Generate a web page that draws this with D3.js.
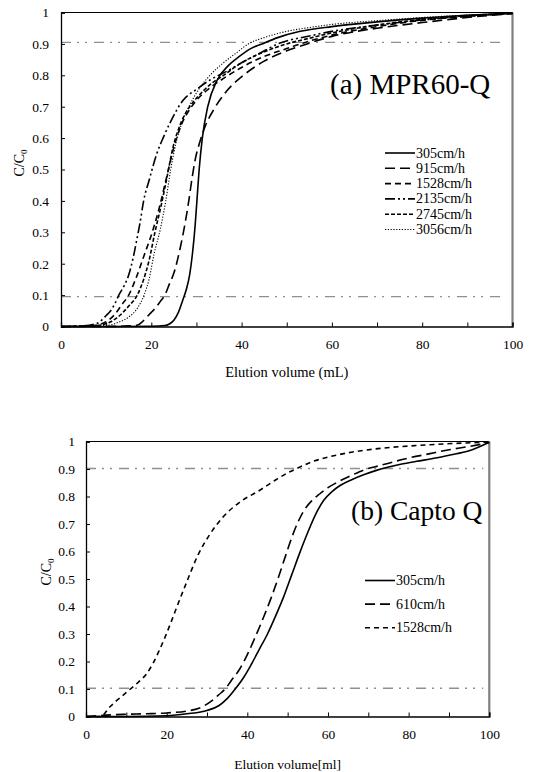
<!DOCTYPE html>
<html><head><meta charset="utf-8">
<script src="https://cdn.jsdelivr.net/npm/d3@7"></script>
<style>
html,body{margin:0;padding:0;background:#fff;}
svg{display:block;}
</style></head>
<body>
<svg id="chart" width="533" height="772"></svg>
<script>
// ---------- DATA ----------
const xTicks = [0, 20, 40, 60, 80, 100];
const xMinorTicks = [0, 10, 20, 30, 40, 50, 60, 70, 80, 90, 100];
const yTicks = [0, 0.1, 0.2, 0.3, 0.4, 0.5, 0.6, 0.7, 0.8, 0.9, 1];
const yTickLabels = ["0", "0.1", "0.2", "0.3", "0.4", "0.5", "0.6", "0.7", "0.8", "0.9", "1"];

// Panel (a) MPR60-Q : [elution volume mL, C/C0]
const seriesNamesA = ["305cm/h", "915cm/h", "1528cm/h", "2135cm/h", "2745cm/h", "3056cm/h"];
const a305 = [[0,0],[10,0],[20,0.001],[23,0.003],[24,0.008],[25,0.02],[26,0.045],[27,0.085],[27.8,0.12],[28.5,0.165],[29.1,0.23],[29.7,0.32],[30.2,0.42],[30.6,0.5],[31.3,0.6],[32.5,0.7],[34.6,0.785],[37,0.83],[39.5,0.86],[42,0.885],[44.5,0.9],[48,0.92],[53,0.94],[60,0.955],[70,0.97],[80,0.982],[90,0.991],[100,0.998]];
const a915 = [[0,0],[10,0],[15,0.002],[17,0.005],[18,0.015],[19,0.03],[20,0.045],[21,0.06],[22,0.08],[23,0.1],[24,0.135],[25,0.17],[26.4,0.25],[27.5,0.33],[28.3,0.4],[29,0.47],[29.7,0.53],[30.8,0.59],[32,0.64],[33.8,0.69],[36.7,0.75],[40.4,0.8],[45,0.845],[50,0.878],[54.5,0.9],[60,0.924],[70,0.95],[80,0.968],[90,0.984],[100,0.997]];
const a1528 = [[0,0],[6,0.002],[8,0.005],[10,0.015],[12,0.04],[13.5,0.07],[15,0.1],[16.5,0.15],[18.5,0.23],[20.2,0.3],[21.8,0.38],[23.3,0.47],[24.8,0.56],[26.3,0.63],[28,0.68],[30,0.72],[33,0.76],[36,0.79],[40,0.825],[45,0.86],[50,0.885],[53,0.9],[60,0.928],[70,0.955],[80,0.975],[90,0.988],[100,0.997]];
const a2135 = [[0,0],[5,0.002],[8,0.01],[9,0.02],[10,0.035],[11,0.05],[12,0.075],[12.8,0.1],[14,0.13],[14.9,0.16],[16,0.22],[16.7,0.27],[17.5,0.33],[18.3,0.4],[19.6,0.47],[21.2,0.55],[22.6,0.6],[24.2,0.65],[27,0.72],[30,0.755],[33,0.785],[37,0.815],[40,0.84],[44,0.87],[48,0.9],[55,0.925],[60,0.94],[70,0.96],[80,0.976],[90,0.988],[100,0.997]];
const a2745 = [[0,0],[7,0.002],[9,0.005],[11,0.015],[13,0.035],[15,0.065],[16.9,0.1],[18.3,0.15],[19.5,0.21],[20.8,0.3],[22.1,0.38],[23.4,0.47],[24.8,0.57],[26.6,0.65],[28.5,0.7],[30.5,0.735],[33,0.77],[36,0.8],[40,0.84],[45,0.875],[50,0.9],[55,0.918],[60,0.935],[70,0.96],[80,0.978],[90,0.99],[100,0.997]];
const a3056 = [[0,0],[10,0.003],[13,0.015],[15,0.03],[17,0.06],[18.4,0.1],[19.5,0.15],[20.6,0.23],[22,0.31],[23.2,0.4],[24.3,0.5],[25.4,0.58],[26.8,0.65],[28.5,0.705],[30.5,0.755],[33,0.8],[36,0.84],[39,0.873],[41.5,0.9],[45,0.92],[50,0.94],[55,0.952],[60,0.962],[70,0.974],[80,0.984],[90,0.992],[100,0.998]];
const dataA = [a305, a915, a1528, a2135, a2745, a3056];

// Panel (b) Capto Q
const seriesNamesB = ["305cm/h", "610cm/h", "1528cm/h"];
const b305 = [[0,0],[10,0],[20,0.003],[25,0.01],[30,0.022],[33,0.04],[35,0.065],[37,0.1],[39,0.14],[41,0.19],[43,0.245],[45,0.3],[47,0.365],[49,0.435],[51,0.515],[53,0.595],[55,0.67],[57,0.737],[59,0.787],[61,0.818],[63,0.84],[66,0.862],[69,0.88],[72,0.895],[75,0.907],[78,0.917],[82,0.928],[86,0.938],[90,0.95],[95,0.966],[100,0.997]];
const b610 = [[0,0],[5,0.005],[10,0.008],[15,0.01],[20,0.013],[25,0.02],[28,0.03],[31,0.055],[33,0.08],[34.5,0.1],[36,0.13],[38,0.17],[40,0.225],[42,0.29],[44,0.36],[46,0.435],[47.8,0.51],[49.5,0.585],[51,0.65],[52.5,0.705],[54,0.748],[56,0.785],[58,0.81],[60,0.832],[63,0.857],[66,0.878],[69,0.897],[73,0.913],[80,0.94],[85,0.955],[90,0.97],[95,0.982],[100,0.996]];
const b1528 = [[0,0],[3,0],[4.3,0.006],[5.5,0.028],[7,0.05],[9,0.075],[11,0.1],[13,0.125],[15,0.155],[16.5,0.19],[18,0.235],[19.5,0.285],[21,0.34],[22.7,0.405],[25,0.49],[27.7,0.585],[30.6,0.66],[33.9,0.724],[38,0.778],[43,0.822],[47,0.86],[50,0.886],[52,0.9],[56,0.926],[60,0.943],[65,0.959],[73,0.975],[85,0.988],[100,0.998]];
const dataB = [b305, b610, b1528];

const refLevelsA = [0.905, 0.095];
const refLevelsB = [0.902, 0.103];

// ---------- STYLES ----------
const FONT = "'Liberation Serif', 'Times New Roman', Times";
const dashA = [null, "10,5", "6,4", "10,3,2,3,2,3", "4,2", "1.2,1.6"];
const widthA = [1.6, 1.6, 1.6, 1.6, 1.6, 1.1];
const dashB = [null, "10,5", "5,4"];
const widthB = [1.6, 1.6, 1.6];

const svg = d3.select("#chart");

function panel(cfg) {
  const x = d3.scaleLinear().domain([0, 100]).range([cfg.left, cfg.right]);
  const y = d3.scaleLinear().domain([0, 1]).range([cfg.bottom, cfg.top]);
  const g = svg.append("g");

  cfg.refs.forEach(r => {
    g.append("line").attr("x1", x(0)).attr("x2", x(98.5)).attr("y1", y(r)).attr("y2", y(r))
      .attr("stroke", "#8f8f8f").attr("stroke-width", 1.4).attr("stroke-dasharray", "10,6,2,6,2,7");
  });

  g.append("line").attr("x1", x(0)).attr("x2", x(100)).attr("y1", y(1)).attr("y2", y(1))
    .attr("stroke", "#000").attr("stroke-width", 1.2);
  g.append("line").attr("x1", x(100)).attr("x2", x(100)).attr("y1", y(1)).attr("y2", y(0))
    .attr("stroke", "#7f7f7f").attr("stroke-width", 2.2);

  const line = d3.line().x(d => x(d[0])).y(d => y(d[1])).curve(d3.curveMonotoneX);
  cfg.data.forEach((s, i) => {
    g.append("path").datum(s).attr("d", line).attr("fill", "none")
      .attr("stroke", "#000").attr("stroke-width", cfg.widths[i])
      .attr("stroke-dasharray", cfg.dashes[i]);
  });

  const xAxisTicks = d3.axisBottom(x).tickValues(xMinorTicks).tickSize(-4).tickFormat("");
  const xa = g.append("g").attr("transform", `translate(0,${cfg.bottom})`).call(xAxisTicks);
  xa.select(".domain").attr("stroke-width", 1.3);
  const xAxisLabels = d3.axisBottom(x).tickValues(xTicks).tickSize(0).tickPadding(cfg.xPad).tickFormat(d3.format("d"));
  const xl = g.append("g").attr("transform", `translate(0,${cfg.bottom})`).call(xAxisLabels);
  xl.select(".domain").remove();
  xl.selectAll("text").style("font-family", FONT).style("font-size", "13.5px");

  const yAxis = d3.axisLeft(y).tickValues(yTicks).tickSize(-4).tickPadding(cfg.yPad)
    .tickFormat((d, i) => yTickLabels[i]);
  const ya = g.append("g").attr("transform", `translate(${cfg.left},0)`).call(yAxis);
  ya.select(".domain").attr("stroke-width", 1.3);
  ya.selectAll("text").style("font-family", FONT).style("font-size", "13.5px");

  g.append("text").attr("x", (cfg.left + cfg.right) / 2).attr("y", cfg.xTitleY)
    .attr("text-anchor", "middle").style("font-family", FONT).style("font-size", cfg.xTitleSize + "px").text(cfg.xTitle);
  const yt = g.append("text").attr("transform", `translate(${cfg.yTitleX},${cfg.yTitleY}) rotate(-90)`)
    .attr("text-anchor", "middle").style("font-family", FONT).style("font-size", "14px");
  yt.append("tspan").text("C/C");
  yt.append("tspan").style("font-size", "9px").attr("dy", 3).text("0");

  g.append("text").attr("x", cfg.labelX).attr("y", cfg.labelY).style("font-family", FONT)
    .style("font-size", cfg.labelSize + "px").text(cfg.label);

  cfg.names.forEach((n, i) => {
    const ly = cfg.legY + i * cfg.legStep;
    g.append("line").attr("x1", cfg.legX).attr("x2", cfg.legX + 30).attr("y1", ly).attr("y2", ly)
      .attr("stroke", "#000").attr("stroke-width", cfg.widths[i]).attr("stroke-dasharray", cfg.dashes[i]);
    g.append("text").attr("x", cfg.legX + 31).attr("y", ly + 4.5).style("font-family", FONT)
      .style("font-size", "14px").text(n);
  });
}

panel({
  left: 61, right: 512.5, top: 12.5, bottom: 326.5,
  data: dataA, names: seriesNamesA, dashes: dashA, widths: widthA, refs: refLevelsA,
  xPad: 13, yPad: 12, xTitle: "Elution volume (mL)", xTitleY: 377, xTitleSize: 14.5,
  yTitleX: 24, yTitleY: 163,
  label: "(a) MPR60-Q", labelX: 330, labelY: 94, labelSize: 29,
  legX: 385, legY: 153, legStep: 15.3
});

panel({
  left: 86, right: 489.3, top: 441.5, bottom: 716.5,
  data: dataB, names: seriesNamesB, dashes: dashB, widths: widthB, refs: refLevelsB,
  xPad: 13, yPad: 11, xTitle: "Elution volume[ml]", xTitleY: 769, xTitleSize: 13.5,
  yTitleX: 51, yTitleY: 572,
  label: "(b) Capto Q", labelX: 351, labelY: 520, labelSize: 27.5,
  legX: 365, legY: 580.5, legStep: 23.6
});
</script>
</body></html>
